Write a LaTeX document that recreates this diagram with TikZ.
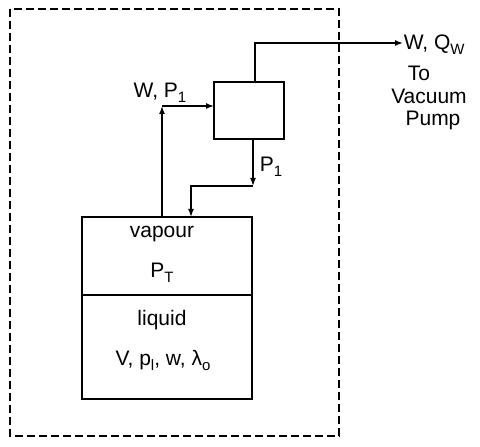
\documentclass[tikz,border=0pt]{standalone}
\usepackage{fontspec}
\setmainfont{Liberation Sans}
\usetikzlibrary{arrows.meta}
\newcommand\sbs[1]{\raisebox{-0.45ex}{\fontsize{15}{15}\selectfont #1}}
\begin{document}
\begin{tikzpicture}[x=1pt,y=1pt,line width=1.5pt,
  lbl/.style={font=\fontsize{21}{23}\selectfont, inner sep=0pt},
  flow/.style={-{Latex[length=8pt,width=6pt]}},
  boxst/.style={draw, rectangle, inner sep=0pt}]
\useasboundingbox (0,0) rectangle (480,447);
\draw[dashed, dash pattern=on 8pt off 4pt, line width=1.2pt] (10,438) rectangle (339,11);
% heat exchanger box
\node[boxst, minimum width=70pt, minimum height=57pt] (hx) at (249,336.5) {};
% tank
\node[boxst, minimum width=170pt, minimum height=182pt] (tank) at (167,139) {};
\coordinate (divl) at (82,152);
\coordinate (divr) at (252,152);
\draw (divl) -- (divr);
% texts in tank
\node[lbl] (vap) at (162,213) {vapour};
\node[lbl] (pt) at (162,174) {P\sbs{T}};
\node[lbl] (liq) at (162,127) {liquid};
\node[lbl] (vpl) at (163,87) {V, p\sbs{l}, w, λ\sbs{o}};
% W,P1 line
\coordinate (up1) at (162,230);
\coordinate (c1) at (162,341);
\coordinate (hxin) at (214,341);
\draw[flow] (up1) -- (c1);
\draw[flow] (c1) -- (hxin);
\node[lbl, anchor=south] (wp1) at (160,344) {W, P\sbs{1}};
% P1 return line
\coordinate (hxout) at (253,308);
\coordinate (c2) at (253,261);
\coordinate (c3) at (191,261);
\coordinate (tin) at (191,230);
\draw[flow] (hxout) -- (c2);
\draw[flow] (c2) -- (c3) -- (tin);
\node[lbl, anchor=west] (p1) at (259,280) {P\sbs{1}};
% to vacuum pump
\coordinate (hxtop) at (255,365);
\coordinate (c4) at (255,404);
\node[lbl, anchor=west] (wq) at (403,402) {W, Q\sbs{W}};
\draw[flow] (hxtop) -- (c4) -- (wq.west |- c4);
\node[lbl] (to) at (419,374) {To};
\node[lbl] (vac) at (429,351) {Vacuum};
\node[lbl] (pump) at (433,327) {Pump};
\end{tikzpicture}
\end{document}
